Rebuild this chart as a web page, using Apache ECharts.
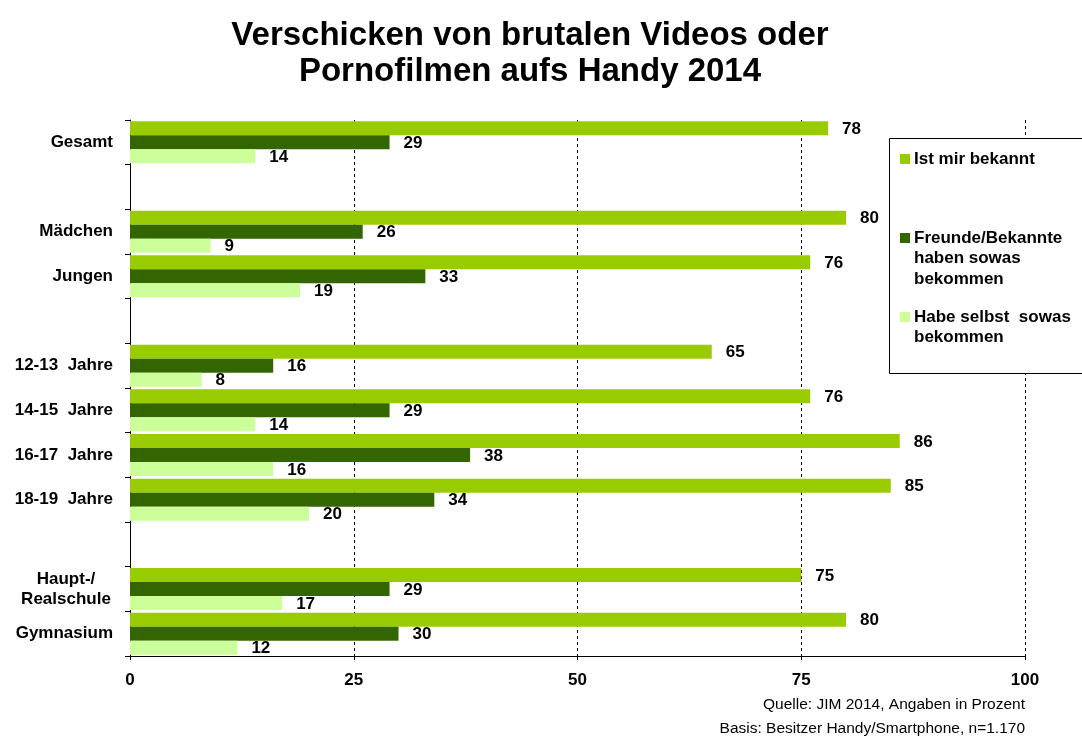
<!DOCTYPE html>
<html>
<head>
<meta charset="utf-8">
<script src="https://cdn.jsdelivr.net/npm/echarts@6/dist/echarts.min.js"></script>
<style>
  html, body { margin: 0; padding: 0; background: #ffffff; }
  #chart { width: 1082px; height: 738px; }
</style>
</head>
<body>
<div id="chart"></div>
<script>
// Groups are separated by empty spacer rows
const categories = ['Gesamt', '', 'Mädchen', 'Jungen', ' ', '12-13  Jahre', '14-15  Jahre', '16-17  Jahre', '18-19  Jahre', '  ', 'Haupt-/\nRealschule', 'Gymnasium'];
const seriesNames = ['Ist mir bekannt', 'Freunde/Bekannte haben sowas bekommen', 'Habe selbst sowas bekommen'];
const bekannt = [78, null, 80, 76, null, 65, 76, 86, 85, null, 75, 80];
const freunde = [29, null, 26, 33, null, 16, 29, 38, 34, null, 29, 30];
const selbst  = [14, null, 9, 19, null, 8, 14, 16, 20, null, 17, 12];
const xTicks = [0, 25, 50, 75, 100];
const colors = ['#99CC00', '#336600', '#CCFF99'];

const FONT = '"Liberation Sans", Arial, sans-serif';
const FS = 17;

const chart = echarts.init(document.getElementById('chart'), null, { renderer: 'canvas' });

function barSeries(name, values, color) {
  return {
    name: name,
    type: 'bar',
    data: values,
    barGap: '0%',
    barCategoryGap: '6%',
    itemStyle: { color: color },
    label: {
      show: true,
      position: 'right',
      distance: 14,
      offset: [0, 1],
      color: '#000',
      fontFamily: FONT,
      fontWeight: 'bold',
      fontSize: FS,
      formatter: p => (p.value == null ? '' : p.value)
    },
    emphasis: { disabled: true },
    animation: false
  };
}

// Legend: framed box on the right, one swatch per series
const legendX = 900, legendTextX = 914;
const legendRows = [
  { y: 159, lines: ['Ist mir bekannt'] },
  { y: 238, lines: ['Freunde/Bekannte', 'haben sowas', 'bekommen'] },
  { y: 317, lines: ['Habe selbst  sowas', 'bekommen'] }
];
const legendGraphics = [{
  type: 'rect',
  shape: { x: 889.5, y: 138.5, width: 220, height: 235 },
  style: { fill: '#fff', stroke: '#000', lineWidth: 1 },
  z: 100
}];
legendRows.forEach((row, i) => {
  legendGraphics.push({
    type: 'rect',
    shape: { x: legendX, y: row.y - 5, width: 10, height: 10 },
    style: { fill: colors[i] },
    z: 101
  });
  row.lines.forEach((line, j) => {
    legendGraphics.push({
      type: 'text',
      x: legendTextX, y: row.y + j * 20.5,
      style: {
        text: line, fill: '#000', font: 'bold ' + FS + 'px ' + FONT,
        textAlign: 'left', textVerticalAlign: 'middle'
      },
      z: 101
    });
  });
});

chart.setOption({
  backgroundColor: '#ffffff',
  animation: false,
  title: {
    text: 'Verschicken von brutalen Videos oder\nPornofilmen aufs Handy 2014',
    left: 525,
    top: 13,
    textAlign: 'center',
    textStyle: { fontFamily: FONT, fontWeight: 'bold', fontSize: 33, lineHeight: 36, color: '#000' }
  },
  grid: { left: 130, right: 57, top: 120, bottom: 82, containLabel: false },
  xAxis: {
    type: 'value',
    min: xTicks[0],
    max: xTicks[xTicks.length - 1],
    interval: 25,
    axisLine: { show: true, lineStyle: { color: '#000', width: 1 } },
    axisTick: { show: true, length: 4, lineStyle: { color: '#000' } },
    axisLabel: { color: '#000', fontFamily: FONT, fontWeight: 'bold', fontSize: FS, margin: 16 },
    splitLine: { show: true, lineStyle: { color: '#000', type: [3, 3], width: 1 } }
  },
  yAxis: {
    type: 'category',
    data: categories,
    inverse: true,
    axisLine: { show: true, lineStyle: { color: '#000', width: 1 } },
    axisTick: { show: true, length: 5, lineStyle: { color: '#000' } },
    axisLabel: {
      color: '#000', fontFamily: FONT, fontWeight: 'bold', fontSize: FS, margin: 17,
      lineHeight: 20,
      formatter: v => v.indexOf('\n') >= 0 ? v.split('\n').map(s => '{c|' + s + '}').join('\n') : v,
      rich: { c: { width: 94, align: 'center', fontFamily: FONT, fontWeight: 'bold', fontSize: FS, color: '#000', lineHeight: 20 } }
    },
    splitLine: { show: false }
  },
  series: [
    barSeries(seriesNames[0], bekannt, colors[0]),
    barSeries(seriesNames[1], freunde, colors[1]),
    barSeries(seriesNames[2], selbst, colors[2])
  ],
  graphic: legendGraphics.concat([
    {
      type: 'text', x: 1025, y: 705,
      style: { text: 'Quelle: JIM 2014, Angaben in Prozent', fill: '#000', font: '15.5px ' + FONT, textAlign: 'right', textVerticalAlign: 'middle' }
    },
    {
      type: 'text', x: 1025, y: 729,
      style: { text: 'Basis: Besitzer Handy/Smartphone, n=1.170', fill: '#000', font: '15.5px ' + FONT, textAlign: 'right', textVerticalAlign: 'middle' }
    }
  ])
});
</script>
</body>
</html>
